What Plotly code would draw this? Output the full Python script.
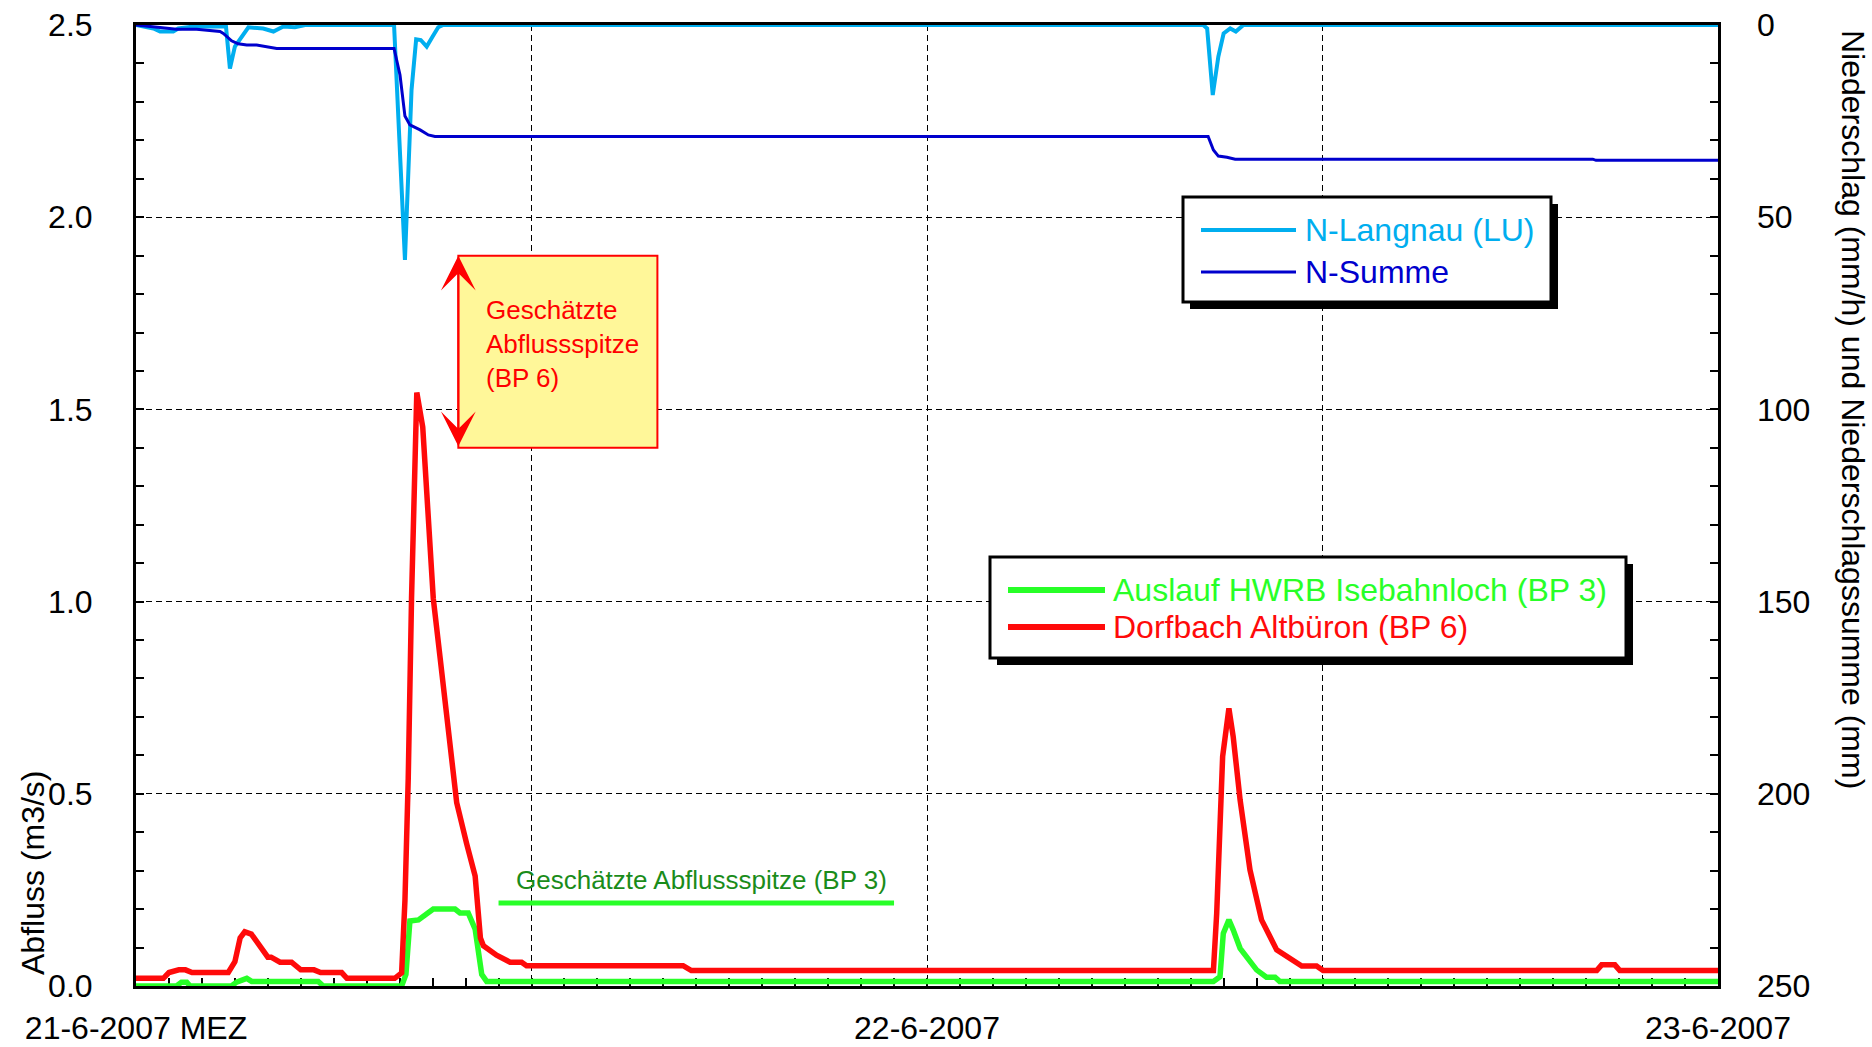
import pandas as pd
import plotly.graph_objects as go

T0 = pd.Timestamp("2007-06-21 00:00")

# ---------------- data (hours after 21-6-2007 00:00 MEZ) ----------------
# Dorfbach Altbüron (BP 6), Abfluss m3/s
bp6_hours = [0, 0.83, 1.0, 1.3, 1.5, 1.7, 2.8, 3.0, 3.16, 3.3, 3.5, 4.0, 4.1, 4.37, 4.72,
             5.0, 5.4, 5.6, 6.24, 6.4, 7.85, 8.06, 8.16, 8.26, 8.36, 8.52, 8.70, 8.87, 9.02,
             9.22, 9.48, 9.73, 10.03, 10.29, 10.45, 10.54, 10.94, 11.35, 11.7, 11.85, 16.6,
             16.85, 32.69, 32.79, 32.97, 33.16, 33.29, 33.5, 33.8, 34.15, 34.61, 34.91, 35.37,
             35.82, 36.02, 44.32, 44.47, 44.87, 45.02, 48.1]
bp6_q = [0.02, 0.02, 0.035, 0.042, 0.042, 0.035, 0.035, 0.063, 0.125, 0.141, 0.135, 0.075,
         0.075, 0.062, 0.062, 0.042, 0.042, 0.035, 0.035, 0.02, 0.02, 0.034, 0.222, 0.54,
         1.008, 1.544, 1.454, 1.199, 1.008, 0.859, 0.647, 0.477, 0.371, 0.286, 0.125, 0.105,
         0.08, 0.062, 0.062, 0.053, 0.053, 0.04, 0.04, 0.189, 0.597, 0.722, 0.649, 0.484,
         0.302, 0.172, 0.094, 0.076, 0.052, 0.052, 0.04, 0.04, 0.055, 0.055, 0.04, 0.04]

# Auslauf HWRB Isebahnloch (BP 3), Abfluss m3/s
bp3_hours = [0, 1.23, 1.38, 1.54, 1.64, 2.9, 3.05, 3.36, 3.51, 5.53, 5.68, 8.06, 8.19, 8.31,
             8.57, 9.02, 9.68, 9.83, 10.08, 10.29, 10.49, 10.64, 32.69, 32.89, 32.99, 33.16,
             33.29, 33.5, 34.0, 34.3, 34.56, 34.7, 48.1]
bp3_q = [0, 0, 0.01, 0.01, 0, 0, 0.01, 0.02, 0.012, 0.012, 0, 0, 0.03, 0.169, 0.172, 0.2,
         0.2, 0.19, 0.19, 0.148, 0.03, 0.012, 0.012, 0.024, 0.137, 0.172, 0.146, 0.098,
         0.042, 0.023, 0.023, 0.012, 0.012]

# N-Langnau (LU), Niederschlag mm/h
nl_hours = [0, 0.53, 0.73, 1.13, 1.28, 1.84, 2.55, 2.73, 2.85, 3.0, 3.41, 3.86, 4.17, 4.47,
            4.82, 5.13, 7.83, 8.16, 8.36, 8.5, 8.64, 8.82, 9.0, 9.17, 9.32, 32.38, 32.5,
            32.67, 32.84, 33.0, 33.2, 33.37, 33.6, 48.1]
nl_mm = [0, 0.9, 1.7, 1.7, 0.9, 0.3, 0.4, 0.4, 11.3, 5.6, 0.6, 0.9, 1.7, 0.4, 0.6, 0, 0, 61.1,
         16.9, 3.7, 3.9, 5.6, 3.0, 0.6, 0, 0, 0.9, 18.2, 8.2, 2.2, 0.9, 1.7, 0, 0]

# N-Summe, Niederschlagssumme mm
ns_hours = [0, 0.53, 1.23, 1.84, 2.55, 2.65, 2.9, 3.1, 3.36, 3.66, 4.27, 7.83, 8.01, 8.16,
            8.31, 8.62, 8.87, 9.07, 32.53, 32.69, 32.84, 33.1, 33.35, 44.2, 44.3, 48.1]
ns_mm = [0, 0.4, 1.1, 1.1, 1.7, 2.2, 4.1, 4.9, 5.2, 5.2, 6.1, 6.1, 13.0, 23.7, 26.0, 27.3,
         28.6, 29.0, 29.0, 32.5, 34.1, 34.4, 34.9, 34.9, 35.2, 35.2]

# estimated peaks
est_bp6_hours = [9.78, 15.82]
est_bp6_q = [1.40, 1.90]
est_bp3_hours = [11.0, 23.0]
est_bp3_q = 0.216

x_tick_hours = [0, 12, 24, 36, 48]
x_tick_text = ["21-6-2007 MEZ", "", "22-6-2007", "", "23-6-2007"]
y_ticks = [0, 0.5, 1.0, 1.5, 2.0, 2.5]
y2_ticks = [0, 50, 100, 150, 200, 250]

names = {
    "nl": "N-Langnau (LU)",
    "ns": "N-Summe",
    "bp3": "Auslauf HWRB Isebahnloch (BP 3)",
    "bp6": "Dorfbach Altbüron (BP 6)",
}
colors = {"nl": "#00AEEF", "ns": "#0000CD", "bp3": "#28FF28", "bp6": "#FF0A0A"}


def t(hs):
    return [T0 + pd.Timedelta(hours=h) for h in hs]


FONT = "Liberation Sans, Arial, Helvetica, sans-serif"

# plot area in px (for legend boxes etc.)
PL, PT, PW, PH = 136, 25, 1582, 961


def px_x(px):
    return (px - PL) / PW


def px_y(py):
    return (PT + PH - py) / PH


fig = go.Figure()
fig.add_trace(go.Scatter(x=t(nl_hours), y=nl_mm, yaxis="y2", mode="lines", name=names["nl"],
                         line=dict(color=colors["nl"], width=4)))
fig.add_trace(go.Scatter(x=t(ns_hours), y=ns_mm, yaxis="y2", mode="lines", name=names["ns"],
                         line=dict(color=colors["ns"], width=3)))
fig.add_trace(go.Scatter(x=t(bp3_hours), y=bp3_q, mode="lines", name=names["bp3"],
                         line=dict(color=colors["bp3"], width=5.5)))
fig.add_trace(go.Scatter(x=t(bp6_hours), y=bp6_q, mode="lines", name=names["bp6"],
                         line=dict(color=colors["bp6"], width=5.5)))

shapes = []
annotations = []

# estimated peak box (BP 6)
bx = t(est_bp6_hours)
shapes.append(dict(type="rect", xref="x", yref="y", x0=bx[0], x1=bx[1],
                   y0=est_bp6_q[0], y1=est_bp6_q[1], fillcolor="#FFF799",
                   line=dict(color="#FF0000", width=2), layer="above"))
annotations.append(dict(xref="x", yref="y", x=bx[0], y=est_bp6_q[1], axref="x", ayref="y",
                        ax=bx[0], ay=est_bp6_q[0], text="", showarrow=True,
                        arrowside="end+start", arrowhead=3, startarrowhead=3,
                        arrowsize=2.9, startarrowsize=2.9, arrowwidth=2, arrowcolor="#FF0000"))
annotations.append(dict(xref="x", yref="y", x=t([10.56])[0], y=1.671, xanchor="left",
                        yanchor="middle", align="left", showarrow=False,
                        text="Geschätzte<br>Abflussspitze<br>(BP 6)",
                        font=dict(family=FONT, size=26, color="#FF0000")))

# estimated peak line (BP 3)
gx = t(est_bp3_hours)
shapes.append(dict(type="line", xref="x", yref="y", x0=gx[0], x1=gx[1], y0=est_bp3_q,
                   y1=est_bp3_q, line=dict(color=colors["bp3"], width=5), layer="above"))
annotations.append(dict(xref="x", yref="y", x=t([17.17])[0], y=0.275, xanchor="center",
                        yanchor="middle", showarrow=False,
                        text="Geschätzte Abflussspitze (BP 3)",
                        font=dict(family=FONT, size=26, color="#1A8C1A")))


# manual legends with shadow
def legend_box(x0, y0, x1, y1, rows, lx0, lx1, tx):
    shapes.append(dict(type="rect", xref="paper", yref="paper", x0=px_x(x0 + 7), x1=px_x(x1 + 7),
                       y0=px_y(y1 + 7), y1=px_y(y0 + 7), fillcolor="black",
                       line=dict(width=0), layer="above"))
    shapes.append(dict(type="rect", xref="paper", yref="paper", x0=px_x(x0), x1=px_x(x1),
                       y0=px_y(y1), y1=px_y(y0), fillcolor="white",
                       line=dict(color="black", width=3), layer="above"))
    for key, ry, w in rows:
        shapes.append(dict(type="line", xref="paper", yref="paper", x0=px_x(lx0), x1=px_x(lx1),
                           y0=px_y(ry), y1=px_y(ry), line=dict(color=colors[key], width=w),
                           layer="above"))
        annotations.append(dict(xref="paper", yref="paper", x=px_x(tx), y=px_y(ry),
                                xanchor="left", yanchor="middle", showarrow=False,
                                text=names[key], font=dict(family=FONT, size=32,
                                                           color=colors[key])))


legend_box(1183, 197, 1551, 302, [("nl", 230, 4), ("ns", 272, 3)], 1201, 1296, 1303)
legend_box(990, 557, 1626, 658, [("bp3", 590, 6), ("bp6", 627, 6)], 1008, 1105, 1111)

# axis titles
annotations.append(dict(xref="paper", yref="paper", x=px_x(33), y=px_y(873), textangle=-90,
                        showarrow=False, xanchor="center", yanchor="middle",
                        text="Abfluss (m3/s)", font=dict(family=FONT, size=32, color="black")))
annotations.append(dict(xref="paper", yref="paper", x=px_x(1853), y=px_y(409), textangle=90,
                        showarrow=False, xanchor="center", yanchor="middle",
                        text="Niederschlag (mm/h) und Niederschlagssumme (mm)",
                        font=dict(family=FONT, size=32, color="black")))

grid = dict(showgrid=True, gridcolor="black", gridwidth=1, griddash="6px,4px")

fig.update_layout(
    width=1872, height=1047,
    margin=dict(l=PL, r=1872 - PL - PW, t=PT, b=1047 - PT - PH, autoexpand=False),
    paper_bgcolor="white", plot_bgcolor="white",
    showlegend=False,
    font=dict(family=FONT, size=32, color="black"),
    xaxis=dict(type="date", range=[T0, T0 + pd.Timedelta(hours=48)],
               tickvals=t(x_tick_hours), ticktext=x_tick_text,
               ticks="inside", ticklen=8, tickwidth=1.5, tickcolor="black",
               showline=True, linecolor="black", linewidth=3, mirror=True,
               layer="below traces", ticklabelstandoff=12,
               minor=dict(dtick=3600000, tick0=T0, ticks="inside", ticklen=8, tickwidth=1.5,
                          tickcolor="black", showgrid=False),
               tickfont=dict(size=32), zeroline=False, **grid),
    yaxis=dict(range=[0, 2.5], tickvals=y_ticks, tickformat=".1f",
               ticks="inside", ticklen=8, tickwidth=1.5, tickcolor="black",
               showline=True, linecolor="black", linewidth=3, mirror=True,
               layer="below traces", ticklabelstandoff=34, zeroline=False,
               minor=dict(dtick=0.1, ticks="inside", ticklen=8, tickwidth=1.5,
                          tickcolor="black", showgrid=False),
               tickfont=dict(size=32), **grid),
    yaxis2=dict(range=[250, 0], overlaying="y", side="right", tickvals=y2_ticks,
                ticks="inside", ticklen=8, tickwidth=1.5, tickcolor="black",
                showline=False, showgrid=False, zeroline=False, layer="below traces",
                ticklabelstandoff=38,
                minor=dict(dtick=10, ticks="inside", ticklen=8, tickwidth=1.5,
                           tickcolor="black", showgrid=False),
                tickfont=dict(size=32)),
    shapes=shapes,
    annotations=annotations,
)

fig.write_html("out.html")
